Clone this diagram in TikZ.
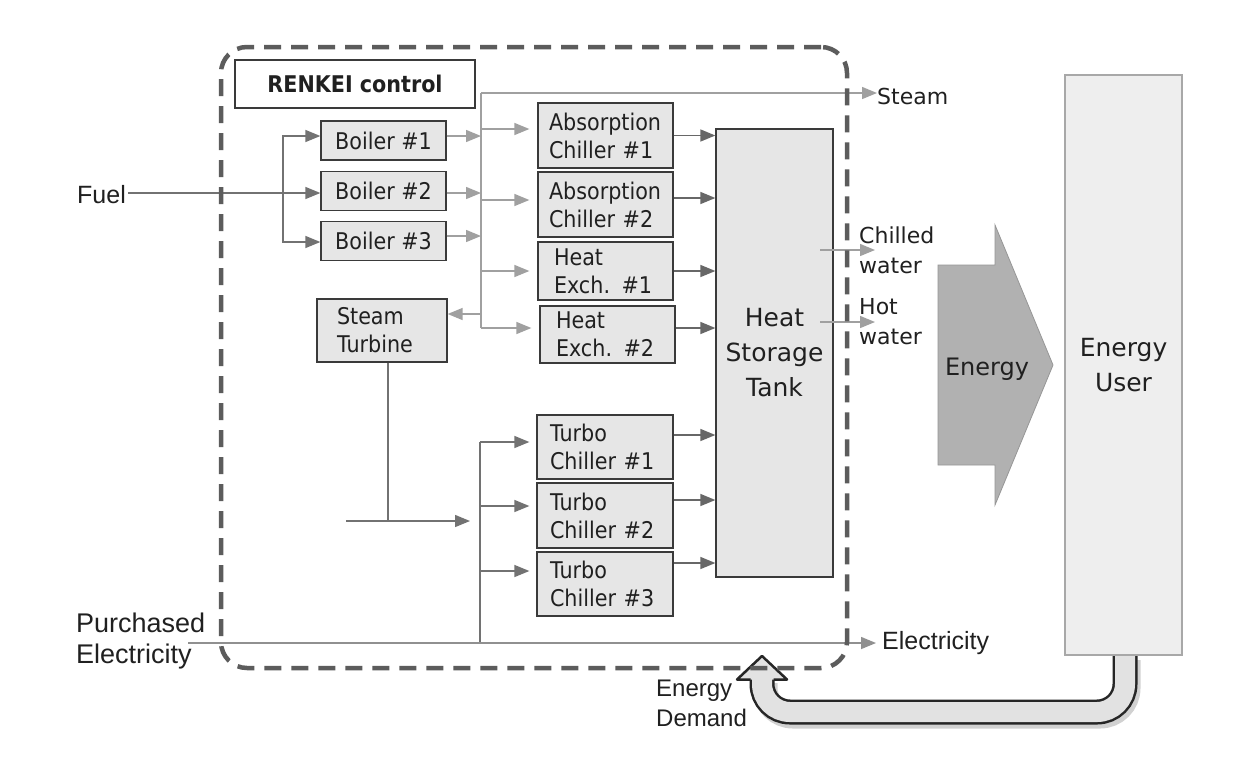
\documentclass[tikz,border=0pt]{standalone}
\usepackage{fontspec}
\setmainfont{DejaVu Sans}
\newfontfamily\vfont{DejaVu Sans}
\newfontfamily\vnfont[FakeStretch=0.9]{DejaVu Sans}
\newfontfamily\afont{Liberation Sans}
\usetikzlibrary{arrows.meta}
\definecolor{boxfill}{HTML}{E6E6E6}
\definecolor{boxdraw}{HTML}{3A3A3A}
\definecolor{stc}{HTML}{A0A0A0}
\definecolor{dkc}{HTML}{727272}
\definecolor{frc}{HTML}{5C5C5C}
\definecolor{usrfill}{HTML}{EEEEEE}
\definecolor{usrdraw}{HTML}{A8A8A8}
\definecolor{enfa}{HTML}{B1B1B1}
\definecolor{fbf}{HTML}{E2E2E2}
\definecolor{txc}{HTML}{202020}
\newcommand\fBox{\vnfont\fontsize{23pt}{28pt}\selectfont}
\newcommand\fTank{\vfont\fontsize{25pt}{35pt}\selectfont}
\newcommand\fLab{\vfont\fontsize{22pt}{30.5pt}\selectfont}
\newcommand\fEn{\vfont\fontsize{24pt}{30pt}\selectfont}
\newcommand\fAr{\afont\fontsize{25pt}{30pt}\selectfont}
\newcommand\fArL{\afont\fontsize{27pt}{31pt}\selectfont}
\newcommand\fAD{\afont\fontsize{24pt}{30pt}\selectfont}
\tikzset{
  blk/.style={draw=boxdraw, fill=boxfill, line width=1.3pt, inner sep=0pt, font=\fBox, text=txc},
  lbl/.style={inner sep=0pt, text=txc},
  tip/.style={-{Triangle[length=15pt,width=12pt]}},
  sl/.style={draw=stc, line width=1.4pt},
  sa/.style={sl, tip, color=stc},
  dl/.style={draw=dkc, line width=1.4pt},
  da/.style={dl, tip, color=dkc},
  ta/.style={draw=dkc!90!black, line width=1.5pt, tip, color=dkc!90!black},
}
\begin{document}
\begin{tikzpicture}[x=1pt,y=-1pt]
\useasboundingbox[fill=white] (0,0) rectangle (1257,761);

% ---- boxes ----
\node[blk, fill=white, minimum width=240pt, minimum height=48pt, font=\fBox\bfseries] (ren) at (355,84) {RENKEI control};
\node[blk, minimum width=125pt, minimum height=39pt] (b1) at (383.5,140.5) {Boiler \#1};
\node[blk, minimum width=125pt, minimum height=39pt] (b2) at (383.5,191) {Boiler \#2};
\node[blk, minimum width=125pt, minimum height=39pt] (b3) at (383.5,241) {Boiler \#3};
\node[blk, text width=113pt, inner xsep=11pt, align=left, minimum height=65pt] (ab1) at (605.5,135.5) {Absorption\\Chiller \#1};
\node[blk, text width=113pt, inner xsep=11pt, align=left, minimum height=65pt] (ab2) at (605.5,204.5) {Absorption\\Chiller \#2};
\node[blk, text width=103pt, inner xsep=16pt, align=left, minimum height=58pt] (hx1) at (605.5,271) {Heat\\Exch. \#1};
\node[blk, text width=103pt, inner xsep=16pt, align=left, minimum height=57pt] (hx2) at (607.5,334.5) {Heat\\Exch. \#2};
\node[blk, text width=90pt, inner xsep=20pt, align=left, minimum height=63pt] (st) at (382,330.5) {Steam\\Turbine};
\node[blk, text width=110pt, inner xsep=13pt, align=left, minimum height=64pt] (tc1) at (605,447) {Turbo\\Chiller \#1};
\node[blk, text width=110pt, inner xsep=13pt, align=left, minimum height=65pt] (tc2) at (605,515.5) {Turbo\\Chiller \#2};
\node[blk, text width=110pt, inner xsep=13pt, align=left, minimum height=64pt] (tc3) at (605,584) {Turbo\\Chiller \#3};
\node[blk, minimum width=117pt, minimum height=448pt, font=\fTank, align=center] (tank) at (774.5,353) {Heat\\Storage\\Tank};
\node[draw=usrdraw, fill=usrfill, line width=1.2pt, minimum width=117pt, minimum height=580pt, inner sep=0pt, font=\fTank, align=center, text=txc] (user) at (1123.5,365) {Energy\\User};

% ---- labels ----
\node[lbl, font=\fAr, anchor=base west, inner xsep=2pt] (fuel) at (75,203) {Fuel};
\node[lbl, font=\fArL, anchor=north west, align=left] (pel) at (76,612.7) {Purchased\\Electricity};
\node[lbl, font=\fAr, anchor=base west] (elec) at (882,649) {Electricity};
\node[lbl, font=\fLab, anchor=base west] (steam) at (877,104) {Steam};
\node[lbl, font=\fLab, anchor=north west, align=left] (chw) at (859,226.3) {Chilled\\water};
\node[lbl, font=\fLab, anchor=north west, align=left] (hw) at (859,298) {Hot\\water};
\node[lbl, font=\fAD, anchor=north west, align=left] (dem) at (656,679.8) {Energy\\Demand};

% ---- Energy arrow ----
\path[fill=enfa, draw=enfa!85!black, line width=0.8pt]
  (938,265) -- (995,265) -- (995,225) -- (1053,365) -- (995,505) -- (995,465) -- (938,465) -- cycle;
\node[lbl, font=\fEn, anchor=base] (enl) at (987,375) {Energy};

% ---- fuel distribution ----
\coordinate (b1in) at ([yshift=4.5pt]b1.west);
\coordinate (b2in) at ([yshift=-2pt]b2.west);
\coordinate (b3in) at ([yshift=-1pt]b3.west);
\coordinate (fj) at (283,193);
\draw[da] (fuel.east |- b2in) -- (b2in);
\draw[da] (fj) |- (b1in);
\draw[da] (fj) |- (b3in);

% ---- steam network ----
\coordinate (sbT) at (481,93);
\coordinate (sbB) at (481,328);
\draw[sl] (sbT) -- (sbB);
\draw[sa] (sbT) -- (sbT -| steam.west);
\draw[sa] ([yshift=4.5pt]b1.east) -- ([yshift=4.5pt]b1.east -| sbT);
\draw[sa] ([yshift=-2pt]b2.east) -- ([yshift=-2pt]b2.east -| sbT);
\draw[sa] ([yshift=5pt]b3.east) -- ([yshift=5pt]b3.east -| sbT);
\coordinate (ab1in) at ([yshift=6.5pt]ab1.west);
\coordinate (ab2in) at ([yshift=4.5pt]ab2.west);
\coordinate (hx1in) at (hx1.west);
\coordinate (hx2in) at ([yshift=6.5pt]hx2.west);
\draw[sa, shorten >=8pt] (sbT |- ab1in) -- (ab1in);
\draw[sa, shorten >=8pt] (sbT |- ab2in) -- (ab2in);
\draw[sa, shorten >=8pt] (sbT |- hx1in) -- (hx1in);
\draw[sa, shorten >=8pt] (sbT |- hx2in) -- (hx2in);
\coordinate (stin) at ([yshift=16.5pt]st.east);
\draw[sa] (sbT |- stin) -- (stin);

% ---- into tank ----
\foreach \n/\s in {ab1/0, ab2/6.5, hx1/0, hx2/6.5, tc1/12, tc2/15.5, tc3/21}{
  \draw[ta] ([yshift=\s pt]\n.east) -- ([yshift=\s pt]\n.east -| tank.west);
}

% ---- turbine output & electricity bus ----
\coordinate (tj) at (388,521);
\coordinate (tl) at (346,521);
\coordinate (tr) at (470,521);
\draw[dl] ([xshift=6pt]st.south) -- (tj);
\draw[da] (tl) -- (tr);
\coordinate (tbT) at (480,442);
\coordinate (tbB) at (480,643);
\draw[dl] (tbT) -- (tbB);
\coordinate (tc1in) at ([yshift=5pt]tc1.west);
\coordinate (tc2in) at ([yshift=9.5pt]tc2.west);
\coordinate (tc3in) at ([yshift=13pt]tc3.west);
\draw[da, shorten >=7pt] (tbT |- tc1in) -- (tc1in);
\draw[da, shorten >=7pt] (tbT |- tc2in) -- (tc2in);
\draw[da, shorten >=7pt] (tbT |- tc3in) -- (tc3in);
\coordinate (elS) at (188,643);
\draw[sa, draw=stc!90!black, color=stc!90!black, shorten >=6pt] (elS) -- (elS -| elec.west);

% ---- water outputs ----
\coordinate (cw0) at (820,250);
\coordinate (cw1) at (875,250);
\coordinate (hw0) at (820,322);
\coordinate (hw1) at (875,322);
\draw[da, draw=dkc, color=stc] (cw0) -- (cw1);
\draw[da, draw=dkc, color=stc] (hw0) -- (hw1);

% ---- energy demand feedback ----
\coordinate (fbS) at (1125,655);
\coordinate (fbE) at (762,679);
\draw[line width=25pt, black!18, rounded corners=28pt] (1128,660) -- (1128,716) -- (765,716) -- (765,683);
\draw[double=fbf, double distance=20pt, line width=2.5pt, draw=black!85, rounded corners=28pt]
  (fbS) -- (1125,712) -- (762,712) -- (fbE);
\fill[fbf] (750,679.5) -- (737,679.5) -- (762,656) -- (787,679.5) -- (774,679.5) -- cycle;
\draw[black!85, line width=2.5pt, line join=round] (750.5,679.5) -- (737,679.5) -- (762,656) -- (787,679.5) -- (773.5,679.5);
\node[draw=usrdraw, line width=1.2pt, minimum width=117pt, minimum height=580pt, inner sep=0pt] (userb) at (user) {};

% ---- RENKEI frame ----
\node[draw=frc, line width=4.5pt, dash pattern=on 17pt off 10pt, rounded corners=26pt,
  minimum width=626pt, minimum height=621pt, inner sep=0pt] (frame) at (534,357.5) {};
\end{tikzpicture}
\end{document}
